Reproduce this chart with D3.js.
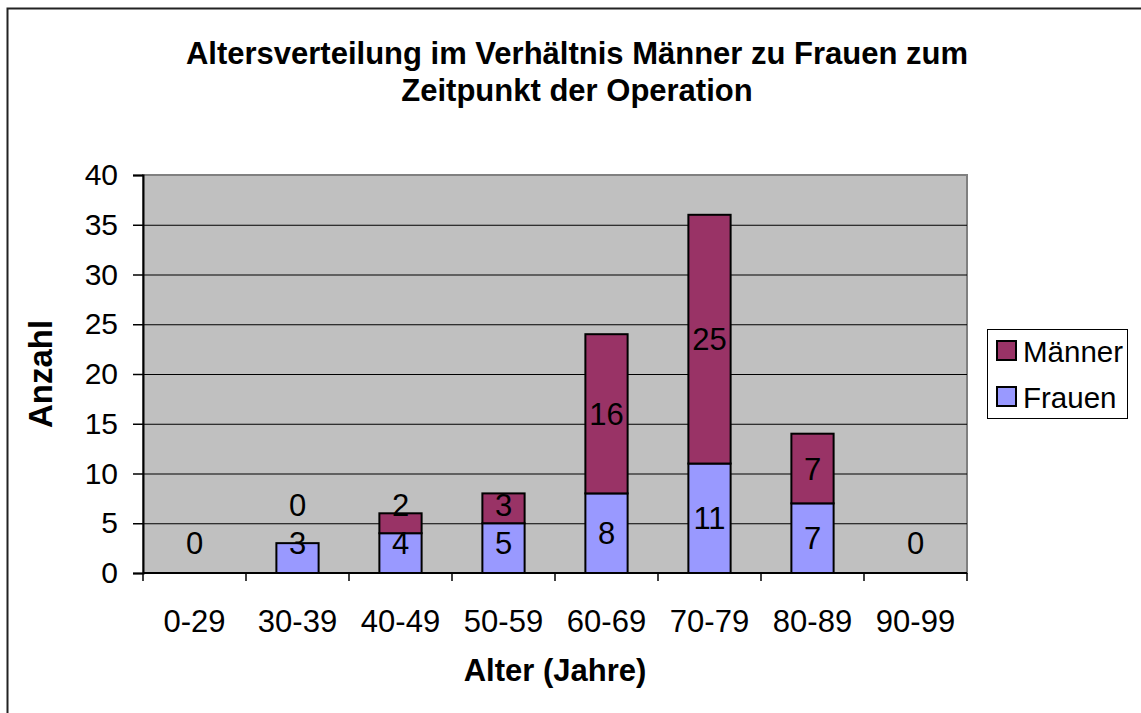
<!DOCTYPE html>
<html>
<head>
<meta charset="utf-8">
<script src="https://cdn.jsdelivr.net/npm/d3@7"></script>
<style>
  body { margin: 0; background: #fff; }
  text { font-family: "Liberation Sans", Arial, sans-serif; fill: #000; }
</style>
</head>
<body>
<div id="chart"></div>
<script>
var categories = ["0-29", "30-39", "40-49", "50-59", "60-69", "70-79", "80-89", "90-99"];
var frauen = [0, 3, 4, 5, 8, 11, 7, 0];
var maenner = [null, 0, 2, 3, 16, 25, 7, null];
var yTicks = [0, 5, 10, 15, 20, 25, 30, 35, 40];
var seriesNames = ["Männer", "Frauen"];
var colors = { "Frauen": "#9999FF", "Männer": "#993366" };

var width = 1141, height = 713;
var plotL = 143, plotR = 967, plotT = 175, plotB = 573;

var svg = d3.select("#chart")
  .append("svg")
  .attr("width", width)
  .attr("height", height);

// outer chart border (only top and left visible)
svg.append("rect")
  .attr("x", 7.5)
  .attr("y", 8.5)
  .attr("width", width + 20)
  .attr("height", height + 20)
  .attr("fill", "none")
  .attr("stroke", "#222")
  .attr("stroke-width", 2);

var x = d3.scaleBand()
  .domain(categories)
  .range([plotL, plotR])
  .paddingInner(0.59)
  .paddingOuter(0.295);

var y = d3.scaleLinear()
  .domain([0, 40])
  .range([plotB, plotT]);

var step = (plotR - plotL) / categories.length;

// plot area
svg.append("rect")
  .attr("x", plotL)
  .attr("y", plotT)
  .attr("width", plotR - plotL)
  .attr("height", plotB - plotT)
  .attr("fill", "#C0C0C0")
  .attr("stroke", "#808080")
  .attr("stroke-width", 2);

// gridlines
svg.selectAll(".grid")
  .data(yTicks.filter(function (d) { return d > 0 && d < 40; }))
  .enter()
  .append("line")
  .attr("x1", plotL)
  .attr("x2", plotR)
  .attr("y1", function (d) { return y(d) + 0.5; })
  .attr("y2", function (d) { return y(d) + 0.5; })
  .attr("stroke", "#000")
  .attr("stroke-width", 1);

// y axis
var yAxis = d3.axisLeft(y)
  .tickValues(yTicks)
  .tickSize(10)
  .tickPadding(15);

var yg = svg.append("g")
  .attr("transform", "translate(" + plotL + ",0)")
  .call(yAxis);
yg.select(".domain").attr("stroke", "#000").attr("stroke-width", 2);
yg.selectAll(".tick line").attr("stroke", "#000").attr("stroke-width", 1.5);
yg.selectAll(".tick text")
  .style("font-size", "30px")
  .style("font-family", "'Liberation Sans', Arial, sans-serif")
  .attr("fill", "#000");

// x axis: ticks at category boundaries
var xg = svg.append("g");
xg.append("line")
  .attr("x1", plotL)
  .attr("x2", plotR)
  .attr("y1", plotB)
  .attr("y2", plotB)
  .attr("stroke", "#000")
  .attr("stroke-width", 2);
xg.selectAll(".xtick")
  .data(d3.range(categories.length + 1))
  .enter()
  .append("line")
  .attr("x1", function (i) { return plotL + i * step; })
  .attr("x2", function (i) { return plotL + i * step; })
  .attr("y1", plotB)
  .attr("y2", plotB + 8)
  .attr("stroke", "#000")
  .attr("stroke-width", 1.5);
xg.selectAll(".xlabel")
  .data(categories)
  .enter()
  .append("text")
  .attr("x", function (d) { return x(d) + x.bandwidth() / 2; })
  .attr("y", 632)
  .attr("text-anchor", "middle")
  .style("font-size", "31px")
  .text(function (d) { return d; });

// stacked bars
var rows = categories.map(function (c, i) {
  return { cat: c, Frauen: frauen[i], "Männer": maenner[i] };
});

rows.forEach(function (r) {
  var f = r.Frauen || 0;
  var m = r["Männer"];
  svg.append("rect")
    .attr("x", x(r.cat))
    .attr("y", y(f))
    .attr("width", x.bandwidth())
    .attr("height", y(0) - y(f))
    .attr("fill", colors.Frauen)
    .attr("stroke", "#000")
    .attr("stroke-width", f > 0 ? 2 : 0);
  if (m != null && m > 0) {
    svg.append("rect")
      .attr("x", x(r.cat))
      .attr("y", y(f + m))
      .attr("width", x.bandwidth())
      .attr("height", y(f) - y(f + m))
      .attr("fill", colors["Männer"])
      .attr("stroke", "#000")
      .attr("stroke-width", 2);
  }

  // data labels (centered, kept above the axis and apart from each other)
  var cx = x(r.cat) + x.bandwidth() / 2;
  var fy = Math.min(y(f / 2), y(3));
  svg.append("text")
    .attr("x", cx)
    .attr("y", fy)
    .attr("dy", "0.36em")
    .attr("text-anchor", "middle")
    .style("font-size", "31px")
    .text(f);
  if (m != null) {
    var my = Math.min(y(f + m / 2), fy - 38);
    svg.append("text")
      .attr("x", cx)
      .attr("y", my)
      .attr("dy", "0.36em")
      .attr("text-anchor", "middle")
      .style("font-size", "31px")
      .text(m);
  }
});

// title
var titleLines = ["Altersverteilung im Verhältnis Männer zu Frauen zum", "Zeitpunkt der Operation"];
svg.selectAll(".title")
  .data(titleLines)
  .enter()
  .append("text")
  .attr("x", 577)
  .attr("y", function (d, i) { return 64 + i * 37; })
  .attr("text-anchor", "middle")
  .style("font-size", "31px")
  .style("font-weight", "bold")
  .text(function (d) { return d; });

// axis titles
svg.append("text")
  .attr("transform", "translate(52," + ((plotT + plotB) / 2) + ") rotate(-90)")
  .attr("text-anchor", "middle")
  .style("font-size", "33px")
  .style("font-weight", "bold")
  .text("Anzahl");

svg.append("text")
  .attr("x", 555)
  .attr("y", 681)
  .attr("text-anchor", "middle")
  .style("font-size", "31px")
  .style("font-weight", "bold")
  .text("Alter (Jahre)");

// legend
var legend = svg.append("g");
legend.append("rect")
  .attr("x", 987.5)
  .attr("y", 329.5)
  .attr("width", 140)
  .attr("height", 89)
  .attr("fill", "#fff")
  .attr("stroke", "#000")
  .attr("stroke-width", 1);

var li = legend.selectAll(".item")
  .data(seriesNames)
  .enter()
  .append("g")
  .attr("transform", function (d, i) { return "translate(997," + (351 + i * 46) + ")"; });
li.append("rect")
  .attr("x", 0)
  .attr("y", -10)
  .attr("width", 19)
  .attr("height", 19)
  .attr("fill", function (d) { return colors[d]; })
  .attr("stroke", "#000")
  .attr("stroke-width", 2);
li.append("text")
  .attr("x", 26)
  .attr("y", 0)
  .attr("dy", "0.36em")
  .style("font-size", "29.5px")
  .text(function (d) { return d; });
</script>
</body>
</html>
